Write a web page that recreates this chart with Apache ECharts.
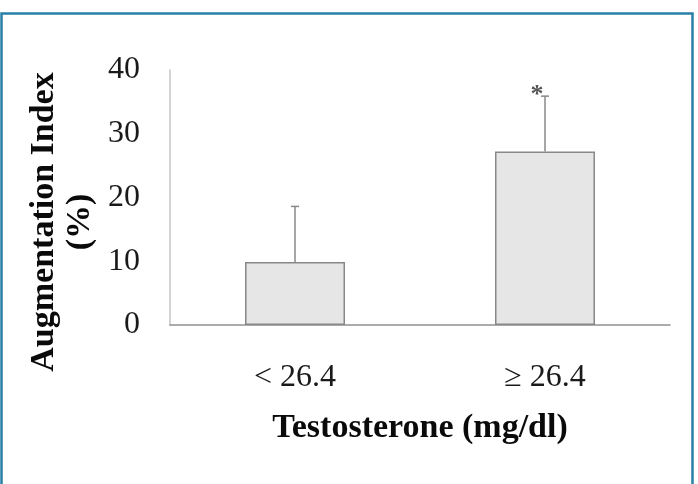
<!DOCTYPE html>
<html>
<head>
<meta charset="utf-8">
<script src="https://cdn.jsdelivr.net/npm/echarts@6/dist/echarts.min.js"></script>
<style>
html,body{margin:0;padding:0;background:#fff;}
#chart{width:698px;height:484px;}
</style>
</head>
<body>
<div id="chart"></div>
<script>
const categories = ['< 26.4', '\u2265 26.4'];
const meanValues = [9.9, 27.2];
const upperValues = [18.6, 35.9];
const markers = ['', '*'];
const yTicks = [0, 10, 20, 30, 40];

const chart = echarts.init(document.getElementById('chart'));
const serif = '"Liberation Serif", "Times New Roman", serif';

const errData = categories.map((c, i) => [i, meanValues[i], upperValues[i], markers[i]]);

chart.setOption({
  animation: false,
  backgroundColor: '#ffffff',
  grid: { left: 170, right: 28, top: 70, bottom: 159, containLabel: false },
  graphic: [
    {
      type: 'rect',
      shape: { x: 1.5, y: 13.5, width: 691, height: 490 },
      style: { fill: 'none', stroke: '#2a7fa8', lineWidth: 2.5 },
      silent: true
    },
    {
      type: 'text',
      x: 62, y: 222,
      rotation: Math.PI / 2,
      style: {
        text: 'Augmentation Index\n(%)',
        font: 'bold 34px ' + serif,
        fill: '#0a0a0a',
        align: 'center',
        verticalAlign: 'middle',
        lineHeight: 36
      }
    }
  ],
  xAxis: {
    type: 'category',
    data: categories,
    name: 'Testosterone (mg/dl)',
    nameLocation: 'middle',
    nameGap: 86,
    nameTextStyle: { fontFamily: serif, fontWeight: 'bold', fontSize: 34, color: '#0a0a0a' },
    axisLine: { lineStyle: { color: '#909090', width: 1.5 } },
    axisTick: { show: false },
    axisLabel: { fontFamily: serif, fontSize: 32, color: '#1a1a1a', margin: 37 },
    splitLine: { show: false }
  },
  yAxis: {
    type: 'value',
    min: 0, max: 40, interval: 10,
    axisLine: { show: true, lineStyle: { color: '#c4c4c4', width: 1.5 } },
    axisTick: { show: false },
    splitLine: { show: false },
    axisLabel: {
      fontFamily: serif, fontSize: 32, color: '#1a1a1a', margin: 30,
      formatter: v => yTicks.includes(v) ? String(v) : ''
    }
  },
  series: [
    {
      type: 'bar',
      data: meanValues,
      barWidth: 100,
      itemStyle: { color: '#e6e6e6', borderColor: '#888888', borderWidth: 1.5 },
      z: 2
    },
    {
      type: 'custom',
      data: errData,
      z: 3,
      renderItem: function (params, api) {
        const base = api.coord([api.value(0), api.value(1)]);
        const top = api.coord([api.value(0), api.value(2)]);
        const mark = errData[params.dataIndex][3];
        const children = [
          { type: 'line', shape: { x1: top[0], y1: base[1], x2: top[0], y2: top[1] },
            style: { stroke: '#888888', lineWidth: 1.5 } },
          { type: 'line', shape: { x1: top[0] - 4, y1: top[1], x2: top[0] + 4, y2: top[1] },
            style: { stroke: '#888888', lineWidth: 1.5 } }
        ];
        if (mark) {
          children.push({
            type: 'text', x: top[0] - 8, y: top[1] - 1,
            style: { text: mark, font: 'bold 26px ' + serif, fill: '#555', align: 'center', verticalAlign: 'middle' }
          });
        }
        return { type: 'group', children: children };
      }
    }
  ]
});
</script>
</body>
</html>
